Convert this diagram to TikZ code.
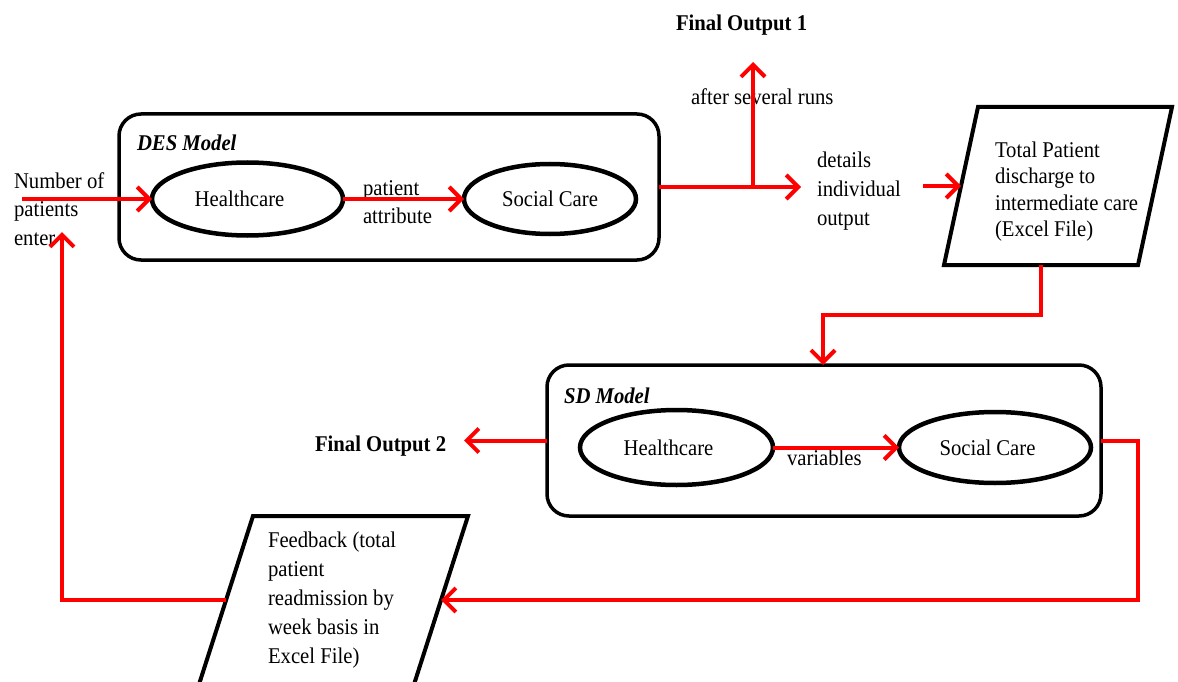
\documentclass[tikz,border=0pt]{standalone}
\usepackage{fontspec}
\setmainfont{Liberation Serif}[FakeStretch=0.92]
\usetikzlibrary{arrows.meta,shapes.geometric}
\newcommand{\fls}{\rule{0pt}{17pt}}
\begin{document}
\begin{tikzpicture}[x=1pt,y=-1pt,
  every node/.style={inner sep=0pt, outer sep=0pt},
  txt/.style={font=\fontsize{22.5}{#1}\selectfont, align=left, anchor=north west},
  txt/.default=28.5,
  bld/.style={font=\fontsize{22.5}{24}\selectfont\bfseries, anchor=base west},
  bldit/.style={font=\fontsize{22.5}{24}\selectfont\bfseries\itshape, anchor=base west},
  modelbox/.style={draw, line width=3.5pt, rounded corners=22pt},
  ell/.style={draw, ellipse, line width=4.5pt, font=\fontsize{22.5}{24}\selectfont},
  para/.style={draw, line width=4pt, line join=miter},
  arr/.style={red, line width=4pt, -{Straight Barb[length=12pt,width=24pt]}},
  lin/.style={red, line width=4pt},
]
\useasboundingbox (0,0) rectangle (1178,682);
\clip (0,0) rectangle (1178,682);

% DES model
\node[modelbox, minimum width=540pt, minimum height=146pt] (des) at (389,187) {};
\node[bldit] (deslab) at (137,150) {DES Model};
\node[ell, minimum width=191pt, minimum height=73pt] (deshc) at (247.5,199) {\hspace*{-16pt}Healthcare};
\node[ell, minimum width=172pt, minimum height=70pt] (dessc) at (550,199) {Social Care};

% SD model
\node[modelbox, minimum width=554pt, minimum height=151pt] (sd) at (824,440.5) {};
\node[bldit] (sdlab) at (564,403) {SD Model};
\node[ell, minimum width=193pt, minimum height=75pt] (sdhc) at (676.5,447.5) {\hspace*{-16pt}Healthcare};
\node[ell, minimum width=192pt, minimum height=71pt] (sdsc) at (995,447.5) {\hspace*{-15pt}Social Care};

% texts
\node[txt] (input) at (14,171) {\fls Number of\\patients\\enter};
\node[txt=28] (pattr) at (363,178) {\fls patient\\attribute};
\node[bld] (fo1) at (676,31) {Final Output 1};
\node[txt] (runs) at (691,88) {\fls after several runs};
\node[txt=29] (details) at (817,150) {\fls details\\individual\\output};
\node[bld] (fo2) at (315,451) {Final Output 2};
\node[txt] (vars) at (787,448) {\fls variables};

% parallelogram 1
\draw[para] (978,107) -- (1172,107) -- (1138,265) -- (944,265) -- cycle;
\coordinate (p1left) at (961,186);
\coordinate (p1bot) at (1041,265);
\node[txt=26.5] (p1txt) at (995,140) {\fls Total Patient\\discharge to\\intermediate care\\(Excel File)};

% feedback parallelogram
\draw[para] (253,516) -- (468,516) -- (409,700) -- (194,700) -- cycle;
\coordinate (fbright) at (441,600);
\coordinate (fbleft) at (226,600);
\node[txt=29] (fbtxt) at (268,530) {\fls Feedback (total\\patient\\readmission by\\week basis in\\Excel File)};

% connectors
\coordinate (instart) at (22,199);
\draw[arr] (instart) -- (deshc.west);
\draw[arr] (deshc.east) -- (dessc.west);
\coordinate (jn) at (753,187);
\coordinate (fo1tip) at (753,62);
\coordinate (dettip) at (801,187);
\draw[lin] (des.east) -- (jn);
\draw[arr] (jn) -- (fo1tip);
\draw[arr] (jn) -- (dettip);
\coordinate (p1start) at (923,186);
\draw[arr] (p1start) -- (p1left);
\draw[arr] (p1bot) -- (1041,315) -- (823,315) -- (823,365);
\coordinate (fo2tip) at (464,440.5);
\draw[arr] (sd.west) -- (fo2tip);
\draw[arr] (sdhc.east) -- (sdsc.west);
\draw[arr] (sd.east) -- (1138,440.5) -- (1138,600) -- (fbright);
\coordinate (uptip) at (62,232);
\draw[arr] (fbleft) -- (62,600) -- (uptip);
\end{tikzpicture}
\end{document}
